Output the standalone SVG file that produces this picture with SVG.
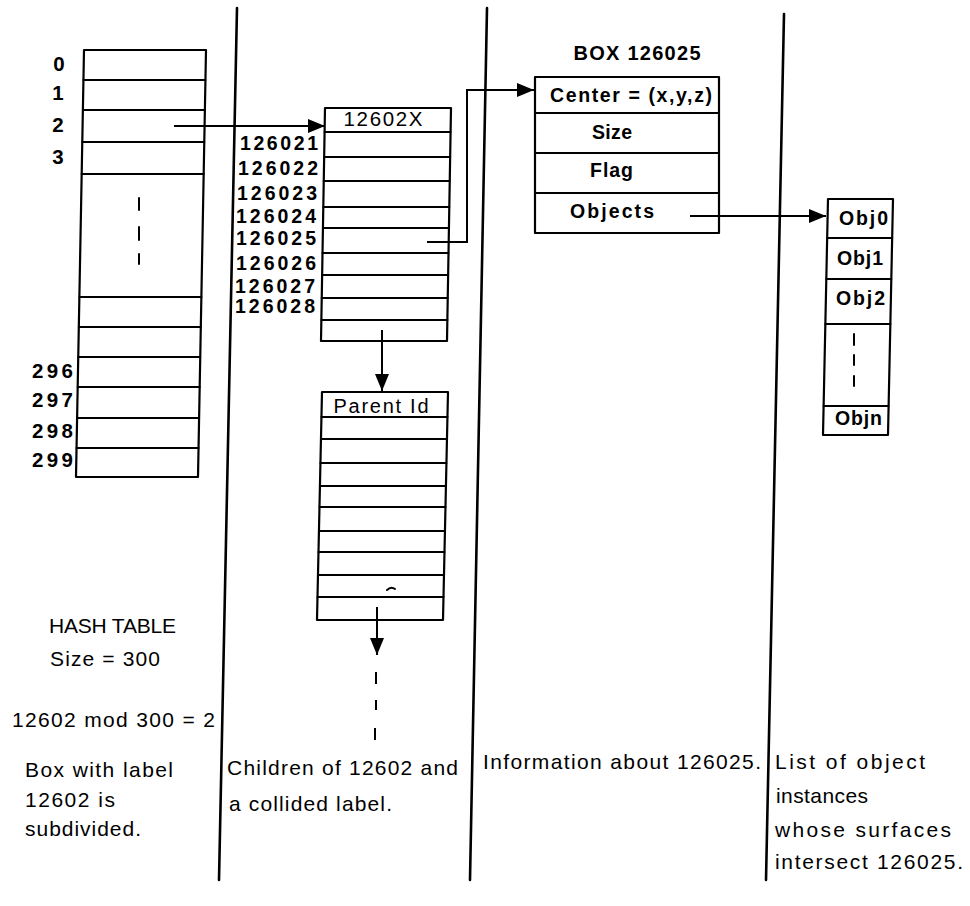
<svg xmlns="http://www.w3.org/2000/svg" width="970" height="906" viewBox="0 0 970 906">
<style>
.ln{stroke:#000;stroke-width:2;fill:none;stroke-linecap:round;stroke-linejoin:round}
.dv{stroke:#000;stroke-width:2.6;fill:none;stroke-linecap:round}
.bx{stroke:#000;stroke-width:2.2;fill:#fff;stroke-linejoin:round}
.t{font-family:"Liberation Sans",Arial,sans-serif;fill:#000}
.b{font-weight:bold}
.lb{font-size:20.5px;font-weight:bold}
.ds{font-size:21px}
.cn{stroke:#000;stroke-width:2;fill:none}
</style>
<defs>
<marker id="ah" markerUnits="userSpaceOnUse" markerWidth="17" markerHeight="14" viewBox="0 0 17 14" refX="17" refY="7" orient="auto">
<path d="M0,0 L17,7 L0,14 z" fill="#000"/>
</marker>
</defs>
<rect width="970" height="906" fill="#fff"/>

<g id="dividers">
<path class="dv" d="M237,8 L219,880"/>
<path class="dv" d="M487,8 L470,880"/>
<path class="dv" d="M784,14 L766,880"/>
</g>

<g id="hash-table">
<polygon class="bx" points="84,50 206,50 198,477 76,477"/>
<path class="ln" d="M83.4,80 H205.4 M82.9,110 H204.9 M82.3,142 H204.3 M81.7,174 H203.7 M79.4,297 H201.4 M78.8,327 H200.8 M78.2,357 H200.2 M77.7,387 H199.7 M77.1,418 H199.1 M76.5,448 H198.5"/>
<path class="ln" stroke-width="2.4" d="M139,198 V210 M139,227 V240 M139,254 V264"/>
<g class="t lb" text-anchor="middle">
<text x="59" y="71">0</text>
<text x="58" y="100">1</text>
<text x="58" y="132">2</text>
<text x="58" y="164">3</text>
</g>
<g class="t lb" text-anchor="end">
<text x="73" y="378" textLength="41" lengthAdjust="spacing">296</text>
<text x="73" y="407" textLength="41" lengthAdjust="spacing">297</text>
<text x="73" y="438" textLength="41" lengthAdjust="spacing">298</text>
<text x="73" y="467" textLength="41" lengthAdjust="spacing">299</text>
</g>
</g>

<g id="children-12602X">
<polygon class="bx" points="325,108 451,108 447,341 321,341"/>
<path class="ln" d="M324.6,132 H450.6 M324.2,157 H450.2 M323.7,181 H449.7 M323.3,207 H449.3 M322.9,228 H448.9 M322.5,253 H448.5 M322.1,275 H448.1 M321.7,298 H447.7 M321.4,320 H447.4"/>
<text class="t" x="383" y="126" font-size="20.5" text-anchor="middle" textLength="79" lengthAdjust="spacing">12602X</text>
<g class="t" font-size="19.5" font-weight="bold" text-anchor="end">
<text x="318" y="150" textLength="78" lengthAdjust="spacing">126021</text>
<text x="318" y="175" textLength="80" lengthAdjust="spacing">126022</text>
<text x="317" y="200" textLength="80" lengthAdjust="spacing">126023</text>
<text x="316" y="223" textLength="80" lengthAdjust="spacing">126024</text>
<text x="316" y="245" textLength="80" lengthAdjust="spacing">126025</text>
<text x="316" y="270" textLength="80" lengthAdjust="spacing">126026</text>
<text x="315" y="293" textLength="80" lengthAdjust="spacing">126027</text>
<text x="315" y="313" textLength="80" lengthAdjust="spacing">126028</text>
</g>
</g>

<g id="parent-list">
<polygon class="bx" points="322,392 448,392 443,620 317,620"/>
<path class="ln" d="M321.5,417 H447.5 M321,439 H447 M320.4,463 H446.4 M319.9,486 H445.9 M319.5,507 H445.5 M319,531 H445 M318.5,552 H444.5 M318,575 H444 M317.5,597 H443.5"/>
<text class="t" x="381" y="413" font-size="20" text-anchor="middle" textLength="95" lengthAdjust="spacing">Parent Id</text>
<path class="ln" stroke-width="1.5" d="M387,590 Q391,586 395,589"/>
</g>

<g id="box-126025">
<text class="t b" x="637" y="60" font-size="20" text-anchor="middle" textLength="127" lengthAdjust="spacing">BOX 126025</text>
<rect class="bx" x="535" y="77" width="184" height="156"/>
<path class="ln" d="M535,113 H719 M535,153 H719 M535,193 H719"/>
<g class="t b" font-size="19.5">
<text x="550" y="102" textLength="162" lengthAdjust="spacing">Center = (x,y,z)</text>
<text x="592" y="139" textLength="40" lengthAdjust="spacing">Size</text>
<text x="590" y="177" textLength="43" lengthAdjust="spacing">Flag</text>
<text x="570" y="218" textLength="84" lengthAdjust="spacing">Objects</text>
</g>
</g>

<g id="object-list">
<polygon class="bx" points="828,199 893,199 888,435 823,435"/>
<path class="ln" d="M827.2,238 H892.2 M826.3,279 H891.3 M825.4,324 H890.4 M823.6,406 H888.6"/>
<path class="ln" stroke-width="2.4" d="M854,334 V345 M854,355 V365 M854,376 V386"/>
<g class="t b" font-size="19.5">
<text x="839" y="225" textLength="49" lengthAdjust="spacing">Obj0</text>
<text x="837" y="265" textLength="46" lengthAdjust="spacing">Obj1</text>
<text x="836" y="305" textLength="49" lengthAdjust="spacing">Obj2</text>
<text x="835" y="425" textLength="47" lengthAdjust="spacing">Objn</text>
</g>
</g>

<g id="connectors">
<path class="cn" d="M174,126 H325" marker-end="url(#ah)"/>
<path class="cn" d="M427,242 H467 V90 H534" marker-end="url(#ah)"/>
<path class="cn" d="M690,216 H826" marker-end="url(#ah)"/>
<path class="cn" d="M382,330 V391" marker-end="url(#ah)"/>
<path class="cn" d="M377,607 V655" marker-end="url(#ah)"/>
<path class="cn" stroke-width="2.4" d="M376,672 V684 M376,700 V710 M375,728 V740"/>
</g>

<g id="captions" class="t ds">
<text x="49" y="633" textLength="127" lengthAdjust="spacing">HASH TABLE</text>
<text x="50" y="666" textLength="110" lengthAdjust="spacing">Size = 300</text>
<text x="12" y="727" textLength="203" lengthAdjust="spacing">12602 mod 300 = 2</text>
<text x="25" y="777" textLength="148" lengthAdjust="spacing">Box with label</text>
<text x="25" y="807" textLength="90" lengthAdjust="spacing">12602 is</text>
<text x="25" y="836" textLength="116" lengthAdjust="spacing">subdivided.</text>
<text x="227" y="775" textLength="231" lengthAdjust="spacing">Children of 12602 and</text>
<text x="229" y="811" textLength="163" lengthAdjust="spacing">a collided label.</text>
<text x="483" y="769" textLength="278" lengthAdjust="spacing">Information about 126025.</text>
<text x="775" y="769" textLength="150" lengthAdjust="spacing">List of object</text>
<text x="776" y="803" textLength="92" lengthAdjust="spacing">instances</text>
<text x="775" y="837" textLength="176" lengthAdjust="spacing">whose surfaces</text>
<text x="775" y="869" textLength="188" lengthAdjust="spacing">intersect 126025.</text>
</g>
</svg>
